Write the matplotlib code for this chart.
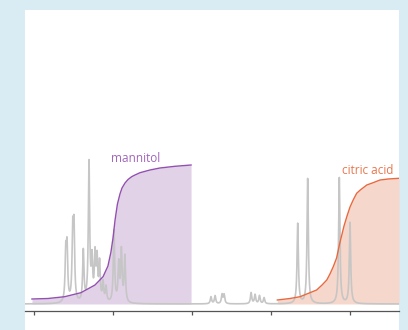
import numpy as np
import matplotlib
matplotlib.use("Agg")
import matplotlib.pyplot as plt
from matplotlib.patches import Rectangle

# 1H NMR peaks: position (ppm), height (a.u.)
peak_ppm = [3.799, 3.791, 3.755, 3.747, 3.688, 3.652, 3.633, 3.614, 3.601,
            3.585, 3.563, 3.544, 3.494, 3.464, 3.447, 3.425,
            2.880, 2.854, 2.810, 2.797, 2.626, 2.601, 2.573, 2.544,
            2.331, 2.268, 2.068, 2.000]
peak_height = [46, 51, 65, 68, 51, 139, 40, 45, 41,
               38, 19, 15, 72, 38, 51, 46,
               7, 8, 9, 9, 11, 9, 8, 6,
               80, 125, 126, 81]

# integral traces
mannitol_ppm = [4.013, 3.911, 3.806, 3.703, 3.614, 3.563, 3.532, 3.513, 3.500,
                3.487, 3.472, 3.456, 3.443, 3.424, 3.405, 3.382, 3.361, 3.329,
                3.266, 3.203, 3.108, 3.006]
mannitol_int = [5, 5.5, 7.3, 11.3, 19, 27.3, 38, 52, 66,
                84, 100, 110, 116, 121, 124.5, 127.3, 129, 131.3,
                134, 136, 137.7, 139]
citric_ppm = [2.460, 2.380, 2.316, 2.211, 2.177, 2.147, 2.127, 2.106, 2.085,
              2.066, 2.038, 2.019, 2.000, 1.980, 1.958, 1.935, 1.894, 1.859,
              1.810, 1.759, 1.690]
citric_int = [4, 5.5, 7.3, 14, 19, 24, 30, 37.3, 46,
              60, 78, 88, 97, 104, 110.7, 114, 119, 121,
              124, 125, 125.7]

ticks = [4.0, 3.5, 3.0, 2.5, 2.0]

W, H = 408, 330
fig = plt.figure(figsize=(W / 100, H / 100), dpi=100)
fig.patch.set_facecolor("#d9ebf3")
fig.patches.append(Rectangle((25 / W, 0), 374 / W, 320 / H, transform=fig.transFigure,
                             facecolor="white", edgecolor="none", zorder=-10))

ax = fig.add_axes([25 / W, 19 / H, 374 / W, 301 / H])
ax.set_facecolor("none")
ax.set_zorder(5)

# spectrum from lorentzian lines
x = np.linspace(4.06, 1.68, 6000)
spec = np.zeros_like(x)
hw = 0.005
for p, h in zip(peak_ppm, peak_height):
    spec += h * hw**2 / ((x - p) ** 2 + hw**2)

ax.fill_between(mannitol_ppm, mannitol_int, 0, color="#dccbe4", alpha=0.85, lw=0, zorder=1)
ax.fill_between(citric_ppm, citric_int, 0, color="#f6d3c6", alpha=0.9, lw=0, zorder=1)
ax.plot(x, spec, color="#c6c6c6", lw=1.2, zorder=2)
ax.plot(mannitol_ppm, mannitol_int, color="#9350b0", lw=1.0, zorder=3)
ax.plot(citric_ppm, citric_int, color="#e8693f", lw=1.0, zorder=3)

ax.text(3.356, 146, "mannitol", color="#a265bb", fontsize=8.5, family="Open Sans",
        ha="center", va="center")
ax.text(1.888, 133, "citric acid", color="#e8764f", fontsize=8.5, family="Open Sans",
        ha="center", va="center")

ax.set_xlim(4.057, 1.690)
ax.set_ylim(-7, 294)
for s in ["top", "left", "right"]:
    ax.spines[s].set_visible(False)
ax.spines["bottom"].set_color("#555555")
ax.spines["bottom"].set_linewidth(0.9)
ax.set_xticks(ticks)
ax.set_xticklabels([])
ax.set_yticks([])
ax.tick_params(axis="x", direction="out", length=3, width=0.9, color="#555555")

fig.savefig("out.png", dpi=100, facecolor=fig.get_facecolor())
